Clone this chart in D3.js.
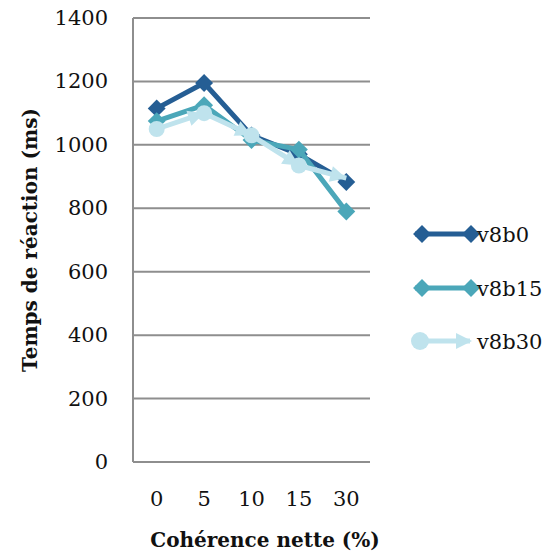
<!DOCTYPE html>
<html>
<head>
<meta charset="utf-8">
<script src="https://cdn.jsdelivr.net/npm/d3@7"></script>
<style>
  body { margin: 0; background: #fff; }
  svg { display: block; }
  .tickTxt { font-family: "DejaVu Serif", serif; font-size: 21px; fill: #111; }
  .axisTitle { font-family: "DejaVu Serif", serif; font-size: 20px; font-weight: bold; fill: #111; }
  .legTxt { font-family: "DejaVu Serif", serif; font-size: 21px; fill: #111; }
</style>
</head>
<body>
<div id="chart"></div>
<script>
var categories = ["0", "5", "10", "15", "30"];
var yTicks = [0, 200, 400, 600, 800, 1000, 1200, 1400];
var seriesNames = ["v8b0", "v8b15", "v8b30"];
var v8b0 = [1115, 1195, 1030, 970, 883];
var v8b15 = [1075, 1125, 1015, 985, 790];
var v8b30 = [1050, 1100, 1030, 935, 895];
var seriesColors = ["#255e94", "#4ba7b9", "#bfe3ed"];

(function () {
  'use strict'

  var allSeries = [v8b0, v8b15, v8b30];
  var margin = {top: 18, left: 133};
  var plotW = 237, plotH = 444;

  var svg = d3.select("#chart").append("svg")
      .attr("width", 556)
      .attr("height", 557);

  var g = svg.append("g")
      .attr("transform", "translate(" + margin.left + "," + margin.top + ")");

  var x = d3.scaleBand().domain(categories).range([0, plotW]);
  var y = d3.scaleLinear().domain([0, 1400]).range([plotH, 0]);

  // horizontal grid
  g.append("g")
      .selectAll("line")
      .data(yTicks)
      .enter().append("line")
      .attr("x1", 0).attr("x2", plotW)
      .attr("y1", function(d){ return y(d); })
      .attr("y2", function(d){ return y(d); })
      .attr("stroke", "#8e8e8e").attr("stroke-width", 2);

  g.append("line")
      .attr("x1", 0).attr("x2", 0).attr("y1", 0).attr("y2", plotH)
      .attr("stroke", "#8e8e8e").attr("stroke-width", 2);

  // y tick labels
  g.append("g")
      .selectAll("text")
      .data(yTicks)
      .enter().append("text")
      .attr("class", "tickTxt")
      .attr("x", -25)
      .attr("y", function(d){ return y(d) + 7; })
      .attr("text-anchor", "end")
      .text(function(d){ return d; });

  // x tick labels
  g.append("g")
      .selectAll("text")
      .data(categories)
      .enter().append("text")
      .attr("class", "tickTxt")
      .attr("x", function(d){ return x(d) + x.bandwidth() / 2; })
      .attr("y", plotH + 44)
      .attr("text-anchor", "middle")
      .text(function(d){ return d; });

  svg.append("text")
      .attr("class", "axisTitle")
      .attr("x", 265).attr("y", 547)
      .attr("text-anchor", "middle")
      .attr("font-size", "20.5px")
      .text("Cohérence nette (%)");

  svg.append("text")
      .attr("class", "axisTitle")
      .attr("transform", "translate(37,240) rotate(-90)")
      .attr("text-anchor", "middle")
      .text("Temps de réaction (ms)");

  var line = d3.line()
      .x(function(d, i){ return x(categories[i]) + x.bandwidth() / 2; })
      .y(function(d){ return y(d); });

  var diamond = d3.symbol().type(d3.symbolSquare).size(160);

  function drawDiamonds(sel, pts, color) {
    sel.selectAll(null)
        .data(pts)
        .enter().append("path")
        .attr("d", diamond)
        .attr("fill", color)
        .attr("transform", function(p){ return "translate(" + p[0] + "," + p[1] + ") rotate(45)"; });
  }

  function arrowHead(sel, x0, y0, x1, y1, color) {
    var ang = Math.atan2(y1 - y0, x1 - x0) * 180 / Math.PI;
    sel.append("path")
        .attr("d", "M0,0 L-16,-8 L-16,8 Z")
        .attr("fill", color)
        .attr("transform", "translate(" + x1 + "," + y1 + ") rotate(" + ang + ")");
  }

  allSeries.forEach(function(vals, si){
    var sg = g.append("g");
    var color = seriesColors[si];
    sg.append("path")
        .datum(vals)
        .attr("d", line)
        .attr("fill", "none")
        .attr("stroke", color)
        .attr("stroke-width", 5)
        .attr("stroke-linejoin", "round");
    var pts = vals.map(function(v, i){ return [x(categories[i]) + x.bandwidth() / 2, y(v)]; });
    if (si < 2) {
      drawDiamonds(sg, pts, color);
    } else {
      pts.forEach(function(p, i){
        if (i < pts.length - 1) {
          sg.append("circle").attr("cx", p[0]).attr("cy", p[1]).attr("r", 8).attr("fill", color);
          arrowHead(sg, p[0], p[1], pts[i + 1][0], pts[i + 1][1], color);
        }
      });
    }
  });

  // legend
  var leg = svg.append("g");
  var legY = [234, 288, 341];
  seriesNames.forEach(function(nm, si){
    var color = seriesColors[si];
    var ly = legY[si];
    leg.append("line")
        .attr("x1", 415).attr("x2", 470).attr("y1", ly).attr("y2", ly)
        .attr("stroke", color).attr("stroke-width", 5);
    if (si < 2) {
      drawDiamonds(leg, [[422, ly], [471, ly]], color);
    } else {
      leg.append("circle").attr("cx", 420).attr("cy", ly).attr("r", 9).attr("fill", color);
      arrowHead(leg, 415, ly, 472, ly, color);
    }
    leg.append("text")
        .attr("class", "legTxt")
        .attr("x", 477).attr("y", ly + 8)
        .text(nm);
  });
})()
</script>
</body>
</html>
